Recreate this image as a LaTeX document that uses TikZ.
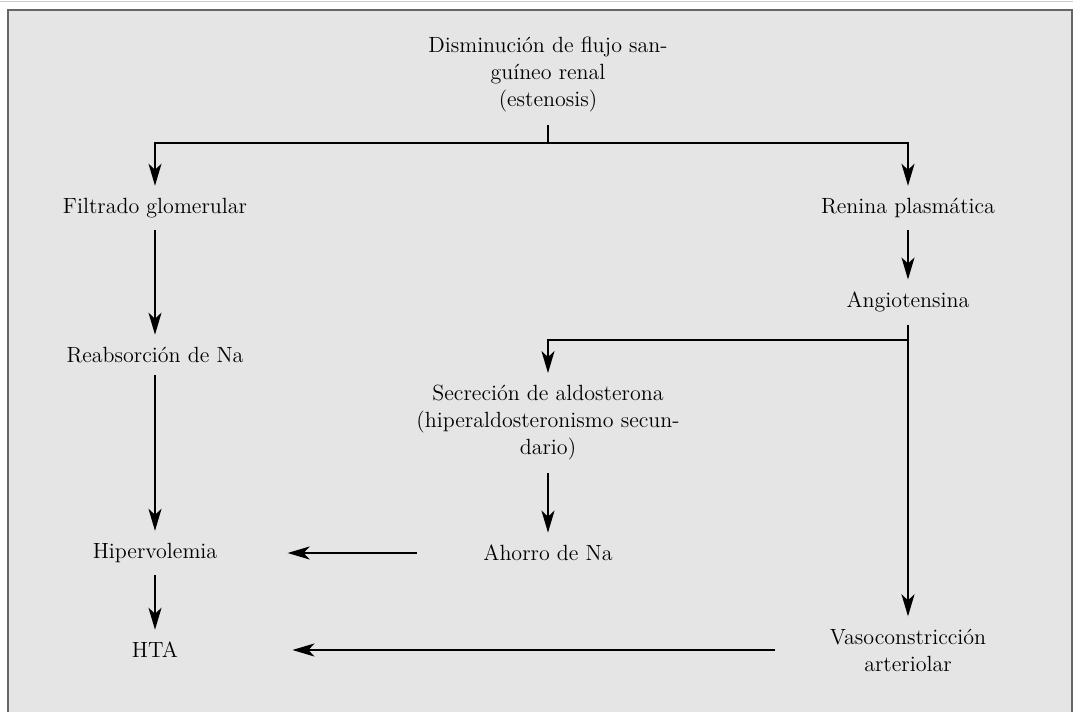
\documentclass[tikz,border=0pt]{standalone}
\usetikzlibrary{arrows.meta}

\begin{document}
\begin{tikzpicture}[x=0.5pt,y=-0.5pt,
    every node/.style={font=\fontsize{11}{13.5}\selectfont, align=center, inner sep=6pt},
    flecha/.style={-{Stealth[length=11pt,width=6.5pt,inset=3pt]}, line width=1pt},
    linea/.style={line width=1pt}]
  \useasboundingbox (0,0) rectangle (1073,712);
  % marco gris
  \draw[black!20, line width=0.5pt] (0,1) -- (1073,1);
  \draw[fill=gray!20, draw=black!60, line width=1pt] (8,730) -- (8,10) -- (1072,10) -- (1072,730);

  \node (dism)   at (548,75)  {Disminución de flujo san-\\guíneo renal\\(estenosis)};
  \node (filt)   at (155,208) {Filtrado glomerular};
  \node (renina) at (908,208) {Renina plasmática};
  \node (reab)   at (155,355) {Reabsorción de Na};
  \node (angio)  at (908,302) {Angiotensina};
  \node (secr)   at (548,423) {Secreción de aldosterona\\(hiperaldosteronismo secun-\\dario)};
  \node (hiper)  at (155,553) {Hipervolemia};
  \node (ahorro) at (548,553) {Ahorro de Na};
  \node (hta)    at (155,650) {HTA};
  \node (vaso)   at (908,650) {Vasoconstricción\\arteriolar};

  \coordinate (rama)   at (548,143);
  \coordinate (desvio) at (908,340);

  \draw[linea] (dism) -- (rama);
  \draw[flecha] (rama) -| (filt);
  \draw[flecha] (rama) -| (renina);
  \draw[flecha] (filt) -- (reab);
  \draw[flecha] (reab) -- (hiper);
  \draw[flecha] (hiper) -- (hta);
  \draw[flecha] (renina) -- (angio);
  \draw[flecha] (angio) -- (vaso);
  \draw[flecha] (desvio) -| (secr);
  \draw[flecha] (secr) -- (ahorro);
  \draw[flecha, shorten <=27pt, shorten >=29pt] (ahorro) -- (hiper);
  \draw[flecha, shorten <=21pt, shorten >=51pt] (vaso) -- (hta);
\end{tikzpicture}
\end{document}
